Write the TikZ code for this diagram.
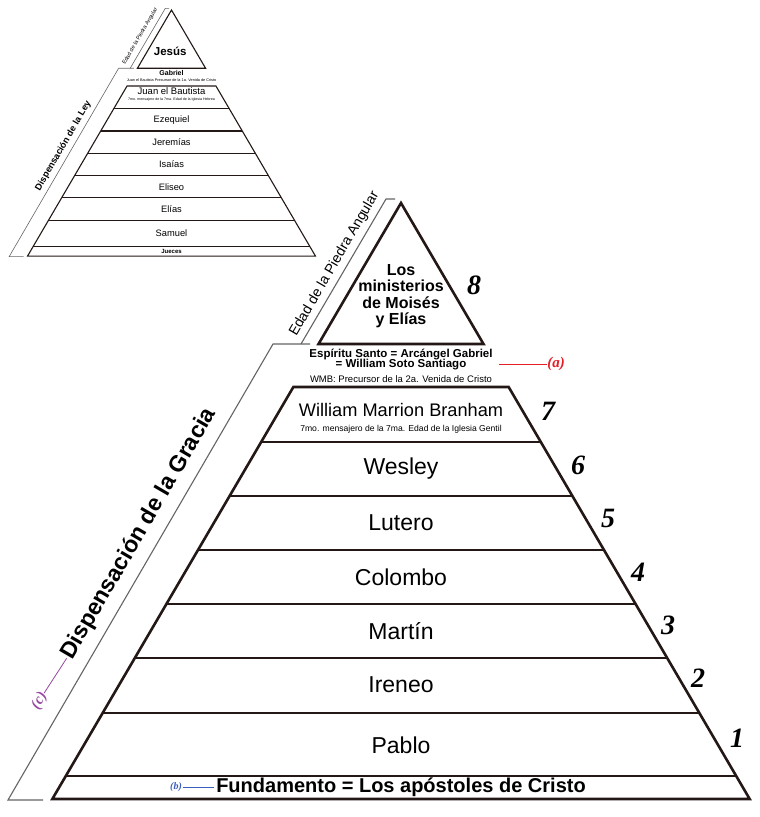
\documentclass[tikz,border=0pt]{standalone}
\usepackage{fontspec}
\setmainfont{Liberation Sans}
\newfontfamily\numfont{Liberation Serif}
\usetikzlibrary{calc}
\definecolor{ink}{RGB}{35,24,21}
\definecolor{bracketgray}{RGB}{100,100,100}
\definecolor{acolor}{RGB}{228,30,38}
\definecolor{bcolor}{RGB}{60,95,190}
\definecolor{ccolor}{RGB}{150,70,160}
\newcommand{\fsz}[2]{\fontsize{#1}{#2}\selectfont}
\tikzset{
  every node/.style={inner sep=0.5pt},
  pyr/.style={draw=ink, line width=2.6pt},
  pyrsmall/.style={draw=ink, line width=1.1pt},
  brk/.style={draw=bracketgray, line width=1.1pt},
  agenum/.style={font=\numfont\bfseries\itshape\fsz{28}{28}},
  tier/.style={font=\fsz{23}{23}},
  tiersmall/.style={font=\fsz{9.3}{9.3}},
  tagline/.style={line width=0.8pt},
}

\begin{document}
\begin{tikzpicture}[x=1pt,y=-1pt]
\useasboundingbox (0,0) rectangle (760,817);
\def\s{0.585}

\begin{scope}[shift={(171.5,10)}, scale=0.413]
\draw[pyrsmall] (0,0) -- ({\s*141},141) -- ({-\s*141},141) -- cycle;
\draw[pyrsmall] ({-\s*184},184) -- ({\s*184},184) -- ({\s*596},596) -- ({-\s*596},596) -- cycle;
\foreach \h in {239,293,347,401,455,510,573} {
  \draw[pyrsmall] ({-\s*\h},\h) -- ({\s*\h},\h);
}
\draw[brk, line width=0.6pt] (-358,597) -- (-393,597) -- (-128,141) -- (-91,141);
\draw[brk, line width=0.6pt] (-100,141) -- (-15,-4) -- (-6,-4);
\node[font=\bfseries\fsz{11.5}{11.5}] (jesus) at (-3,101) {Jesús};
\node[font=\bfseries\fsz{7}{7}] (gabriel) at (0,152) {Gabriel};
\node[font=\fsz{3.8}{3.8}] (precursor1) at (0,170) {Juan el Bautista Precursor de la 1a. Venida de Cristo};
\node[font=\fsz{9.5}{9.5}] (juan) at (0,196) {Juan el Bautista};
\node[font=\fsz{3.6}{3.6}] (hebrea) at (0,218) {7mo. mensajero de la 7ma. Edad de la Iglesia Hebrea};
\foreach \name/\lbl/\h in {ezequiel/Ezequiel/266, jeremias/Jeremías/320, isaias/Isaías/374,
                          eliseo/Eliseo/428, elias/Elías/482, samuel/Samuel/541} {
  \node[tiersmall] (\name) at (0,\h) {\lbl};
}
\node[font=\bfseries\fsz{6}{6}] (jueces) at (0,585) {Jueces};
\node[font=\bfseries\fsz{9.2}{9.2}, rotate=59.8] (ley) at (-262,329) {Dispensación de la Ley};
\node[font=\fsz{5.5}{5.5}, rotate=59.8] (edadsmall) at (-76,64) {Edad de la Piedra Angular};
\end{scope}

\begin{scope}[shift={(401,203)}]
\draw[pyr, line join=miter] (0,0) -- ({\s*141},141) -- ({-\s*141},141) -- cycle;
\draw[pyr] ({-\s*184},184) -- ({\s*184},184) -- ({\s*596},596) -- ({-\s*596},596) -- cycle;
\foreach \h in {239,293,347,401,455,510,573} {
  \draw[pyr] ({-\s*\h},\h) -- ({\s*\h},\h);
}
\draw[brk] (-358,597) -- (-393,597) -- (-128,141) -- (-91,141);
\draw[brk] (-100,141) -- (-15,-4) -- (-6,-4);
\node[font=\bfseries\fsz{16}{16.5}, align=center] (moises) at (0,93) {Los\\ministerios\\de Moisés\\y Elías};
\node[agenum] (n8) at (73,82) {8};
\node[font=\bfseries\fsz{11.5}{11.5}] (espiritu) at (0,151) {Espíritu Santo = Arcángel Gabriel};
\node[font=\bfseries\fsz{11.5}{11.5}] (soto) at (0,162) {= William Soto Santiago};
\node[font=\fsz{9.5}{9.5}] (wmb) at (0,176) {WMB: Precursor de la 2a. Venida de Cristo};
\node[font=\fsz{18.2}{18.2}] (branham) at (0,207) {William Marrion Branham};
\node[font=\fsz{8.6}{8.6}] (gentil) at (0,226) {7mo. mensajero de la 7ma. Edad de la Iglesia Gentil};
\foreach \name/\lbl/\h in {wesley/Wesley/266, lutero/Lutero/320, colombo/Colombo/374,
                          martin/Martín/428, ireneo/Ireneo/482, pablo/Pablo/542} {
  \node[tier] (\name) at (0,\h) {\lbl};
}
\node[font=\bfseries\fsz{20}{20}] (fund) at (0,584) {Fundamento = Los apóstoles de Cristo};
\foreach \k/\x/\y in {7/147/208, 6/177/262, 5/207/315, 4/237/369, 3/267/422, 2/297/475, 1/336/535} {
  \node[agenum] (n\k) at (\x,\y) {\k};
}
\node[font=\bfseries\fsz{23}{23}, rotate=59.8] (gracia) at (-262,331) {Dispensación de la Gracia};
\node[font=\fsz{14.1}{14.1}, rotate=59.8] (edad) at (-66.5,61) {Edad de la Piedra Angular};
\end{scope}

\coordinate (astart) at (499,364);
\node[acolor, font=\numfont\bfseries\itshape\fsz{15}{15}] (la) at (556,364) {(a)};
\draw[acolor, tagline] (astart) -- (la.west);
\node[bcolor, font=\numfont\bfseries\itshape\fsz{10}{10}] (lb) at (176,787) {(b)};
\draw[bcolor, tagline] (lb.east) -- ([xshift=-2pt]fund.west);
\node[ccolor, font=\numfont\bfseries\itshape\fsz{15}{15}, rotate=59.8] (lc) at (39.5,701) {(c)};
\draw[ccolor, tagline] (lc.east) -- (gracia.west);
\end{tikzpicture}
\end{document}
